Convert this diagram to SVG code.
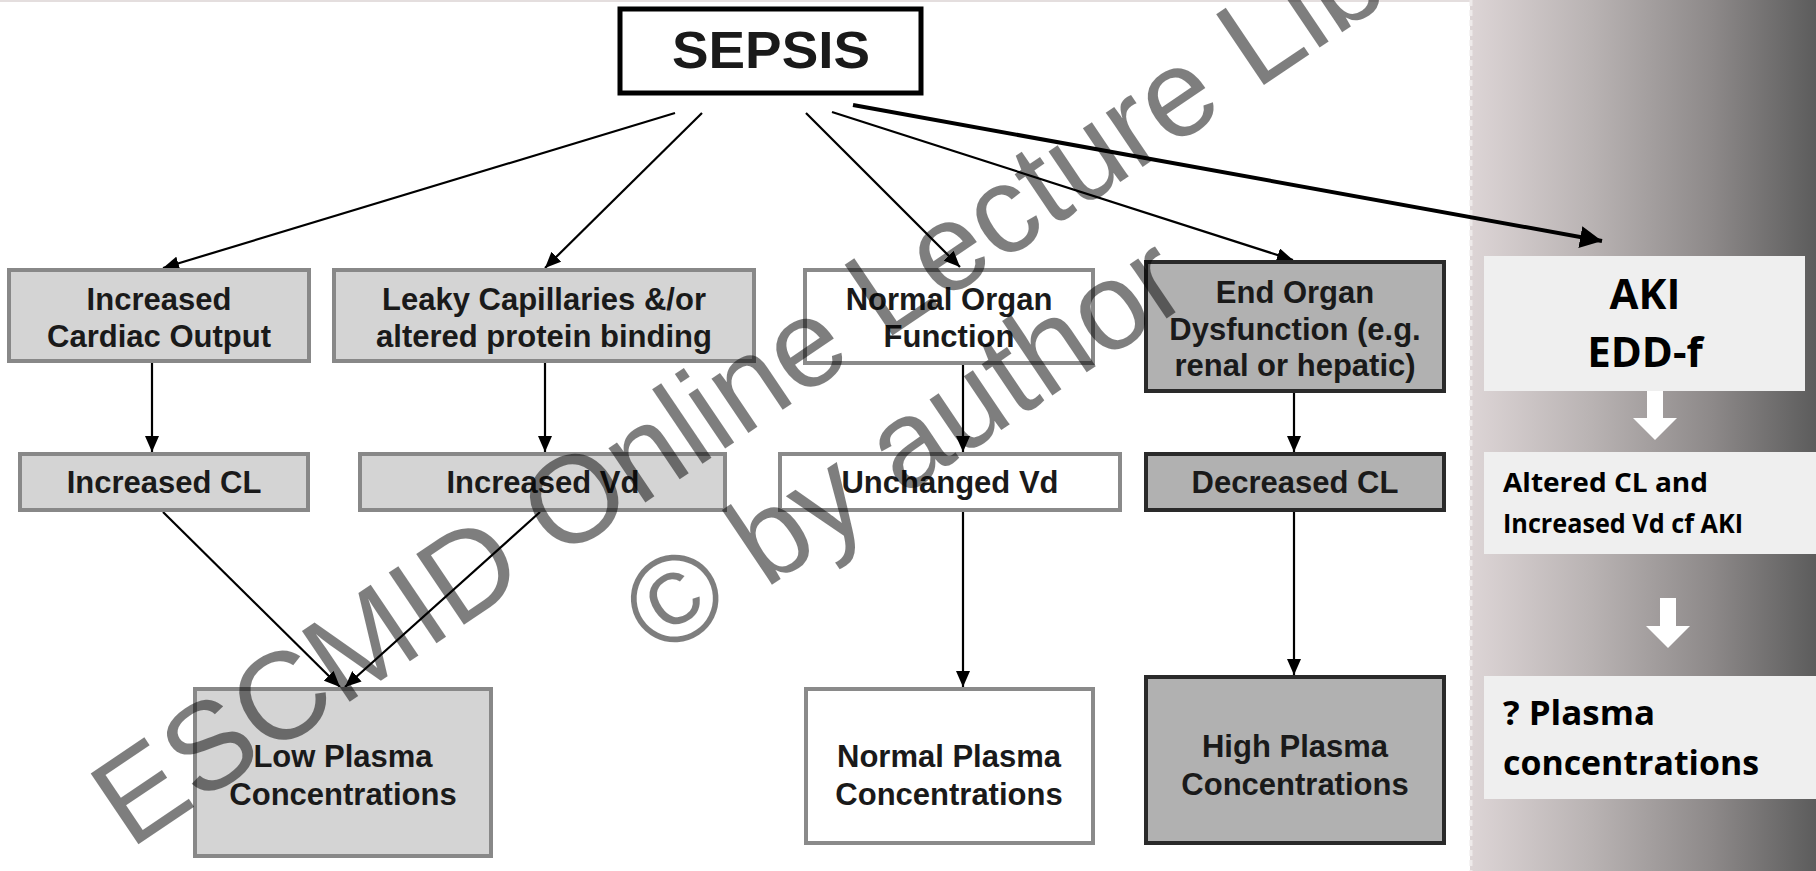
<svg xmlns="http://www.w3.org/2000/svg" width="1816" height="871" viewBox="0 0 1816 871">
<defs>
<linearGradient id="panel" x1="0" y1="0" x2="1" y2="0">
<stop offset="0" stop-color="#ddd5d6"/>
<stop offset="0.35" stop-color="#b9b3b3"/>
<stop offset="0.7" stop-color="#8d8989"/>
<stop offset="1" stop-color="#5c5c5c"/>
</linearGradient>
<marker id="ah" viewBox="0 0 16 14" refX="16" refY="7" markerWidth="16" markerHeight="14" markerUnits="userSpaceOnUse" orient="auto">
<path d="M0,0 L16,7 L0,14 z" fill="#000"/>
</marker>
<marker id="ahBig" viewBox="0 0 22 22" refX="22" refY="11" markerWidth="22" markerHeight="22" markerUnits="userSpaceOnUse" orient="auto">
<path d="M0,0 L22,11 L0,22 z" fill="#000"/>
</marker>
</defs>
<style>
.t{font-family:"Liberation Sans",Arial,sans-serif;font-weight:bold;font-size:31px;fill:#1a1a1a;text-anchor:middle}
.light{fill:#d4d4d4;stroke:#888;stroke-width:4}
.white{fill:#fff;stroke:#8a8a8a;stroke-width:4}
.dark{fill:#b1b1b1;stroke:#2a2a2a;stroke-width:4}
.c{stroke:#000;stroke-width:2.2;fill:none;marker-end:url(#ah)}
.p{fill:#efefef}
.pt{font-family:"Open Sans","Noto Sans",sans-serif;font-weight:bold;fill:#000}
.wm{font-family:"Liberation Sans",Arial,sans-serif;font-size:124px;fill:#000;opacity:0.5}
</style>
<rect x="0" y="0" width="1816" height="871" fill="#fff"/>
<rect x="0" y="0" width="1470" height="2" fill="#e4dede"/>
<rect x="1470" y="0" width="346" height="871" fill="url(#panel)"/>
<line x1="1471" y1="0" x2="1471" y2="871" stroke="#eeeaea" stroke-width="3" stroke-dasharray="6,4"/>

<g id="connectors">
<line class="c" x1="675" y1="113" x2="163" y2="268"/>
<line class="c" x1="702" y1="113" x2="545" y2="268"/>
<line class="c" x1="806" y1="113" x2="960" y2="267"/>
<line class="c" x1="832" y1="112" x2="1293" y2="260"/>
<line x1="853" y1="105" x2="1602" y2="241" stroke="#000" stroke-width="4" marker-end="url(#ahBig)"/>
<line class="c" x1="152" y1="363" x2="152" y2="452"/>
<line class="c" x1="545" y1="363" x2="545" y2="452"/>
<line class="c" x1="963" y1="365" x2="963" y2="452"/>
<line class="c" x1="1294" y1="393" x2="1294" y2="452"/>
<line class="c" x1="163" y1="512" x2="340" y2="687"/>
<line class="c" x1="540" y1="512" x2="345" y2="687"/>
<line class="c" x1="963" y1="512" x2="963" y2="687"/>
<line class="c" x1="1294" y1="512" x2="1294" y2="675"/>
</g>

<g id="sepsis">
<rect x="620" y="9" width="301" height="84" fill="#fff" stroke="#000" stroke-width="5"/>
<text x="771" y="68" font-family="Liberation Sans, Arial, sans-serif" font-weight="bold" font-size="52" fill="#1a1a1a" text-anchor="middle" textLength="198" lengthAdjust="spacingAndGlyphs">SEPSIS</text>
</g>

<g id="increased-cardiac-output">
<rect class="light" x="9" y="270" width="300" height="91"/>
<text class="t" x="159" y="310">Increased</text>
<text class="t" x="159" y="347">Cardiac Output</text>
</g>
<g id="leaky-capillaries">
<rect class="light" x="334" y="270" width="420" height="91"/>
<text class="t" x="544" y="310">Leaky Capillaries &amp;/or</text>
<text class="t" x="544" y="347">altered protein binding</text>
</g>
<g id="normal-organ-function">
<rect class="white" x="805" y="270" width="288" height="93"/>
<text class="t" x="949" y="310">Normal Organ</text>
<text class="t" x="949" y="347">Function</text>
</g>
<g id="end-organ-dysfunction">
<rect class="dark" x="1146" y="262" width="298" height="129"/>
<text class="t" x="1295" y="303">End Organ</text>
<text class="t" x="1295" y="340">Dysfunction (e.g.</text>
<text class="t" x="1295" y="376">renal or hepatic)</text>
</g>

<g id="increased-cl">
<rect class="light" x="20" y="454" width="288" height="56"/>
<text class="t" x="164" y="493">Increased CL</text>
</g>
<g id="increased-vd">
<rect class="light" x="360" y="454" width="365" height="56"/>
<text class="t" x="543" y="493">Increased Vd</text>
</g>
<g id="unchanged-vd">
<rect class="white" x="780" y="454" width="340" height="56"/>
<text class="t" x="950" y="493">Unchanged Vd</text>
</g>
<g id="decreased-cl">
<rect class="dark" x="1146" y="454" width="298" height="56"/>
<text class="t" x="1295" y="493">Decreased CL</text>
</g>

<g id="low-plasma">
<rect class="light" x="195" y="689" width="296" height="167"/>
<text class="t" x="343" y="767">Low Plasma</text>
<text class="t" x="343" y="805">Concentrations</text>
</g>
<g id="normal-plasma">
<rect class="white" x="806" y="689" width="287" height="154"/>
<text class="t" x="949" y="767">Normal Plasma</text>
<text class="t" x="949" y="805">Concentrations</text>
</g>
<g id="high-plasma">
<rect class="dark" x="1146" y="677" width="298" height="166"/>
<text class="t" x="1295" y="757">High Plasma</text>
<text class="t" x="1295" y="795">Concentrations</text>
</g>

<g id="aki">
<rect class="p" x="1484" y="256" width="321" height="135"/>
<text class="pt" x="1645" y="309" font-size="42" text-anchor="middle">AKI</text>
<text class="pt" x="1645" y="367" font-size="42" text-anchor="middle">EDD-f</text>
</g>
<g id="arrow-white-1">
<polygon points="1647,391 1663,391 1663,418 1677,418 1655,440 1633,418 1647,418" fill="#fff"/>
</g>
<g id="altered-cl">
<rect class="p" x="1484" y="452" width="332" height="102"/>
<text class="pt" x="1503" y="492" font-size="27" textLength="205" lengthAdjust="spacingAndGlyphs">Altered CL and</text>
<text class="pt" x="1503" y="533" font-size="27" textLength="240" lengthAdjust="spacingAndGlyphs">Increased Vd cf AKI</text>
</g>
<g id="arrow-white-2">
<polygon points="1660,598 1676,598 1676,626 1690,626 1668,648 1646,626 1660,626" fill="#fff"/>
</g>
<g id="plasma-q">
<rect class="p" x="1484" y="676" width="332" height="123"/>
<text class="pt" x="1503" y="725" font-size="34" textLength="152" lengthAdjust="spacingAndGlyphs">? Plasma</text>
<text class="pt" x="1503" y="775" font-size="34" textLength="256" lengthAdjust="spacingAndGlyphs">concentrations</text>
</g>

<g id="watermark" transform="translate(130,850) rotate(-34)">
<text class="wm" x="0" y="0">ESCMID Online Lecture Library</text>
<text class="wm" x="868" y="139" text-anchor="middle">© by author</text>
</g>
</svg>
